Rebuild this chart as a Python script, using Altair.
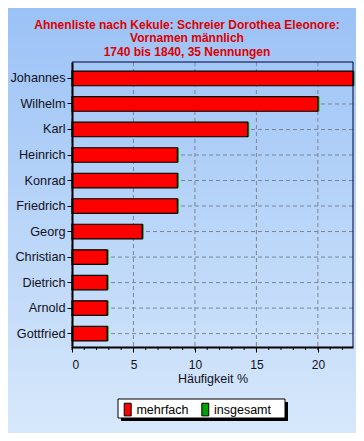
import altair as alt
import pandas as pd

# ---- data ----
names = ["Johannes", "Wilhelm", "Karl", "Heinrich", "Konrad", "Friedrich",
         "Georg", "Christian", "Dietrich", "Arnold", "Gottfried"]
mehrfach = [22.86, 20.0, 14.29, 8.57, 8.57, 8.57, 5.71, 2.86, 2.86, 2.86, 2.86]
insgesamt = [22.86, 20.0, 14.29, 8.57, 8.57, 8.57, 5.71, 2.86, 2.86, 2.86, 2.86]
x_ticks = [0, 5, 10, 15, 20]
minor_ticks = list(range(0, 23))
series = ["mehrfach", "insgesamt"]
series_colors = ["#ff0000", "#00a000"]
title_lines = ["Ahnenliste nach Kekule: Schreier Dorothea Eleonore:",
               "Vornamen männlich",
               "1740 bis 1840, 35 Nennungen"]
x_title = "Häufigkeit %"

W, H = 281, 285
PAD = {"left": 64, "top": 54, "right": 3, "bottom": 86}
FONT = "Liberation Sans"

df = pd.DataFrame({"name": names, "mehrfach": mehrfach, "insgesamt": insgesamt})
one = pd.DataFrame({"a": [0]})

xscale = alt.Scale(domain=[0, 22.857], nice=False, zero=True)
yscale = alt.Scale(domain=names, paddingInner=0.43, paddingOuter=0.3, align=0.6)

xaxis = alt.Axis(values=x_ticks, format="d", grid=False, labelFont=FONT, labelFontSize=12,
                 labelColor="#111122", labelPadding=7, tickSize=5, tickColor="black",
                 domainColor="black", domainWidth=2, title=x_title, titleFont=FONT,
                 titleFontSize=12.5, titleFontWeight="normal", titleColor="#111122",
                 titlePadding=2, zindex=1)
yaxis = alt.Axis(grid=False, labelFont=FONT, labelFontSize=12.7, labelColor="#111122",
                 labelPadding=2, tickSize=5, tickColor="black", domainColor="black",
                 domainWidth=2, title=None, zindex=1)


def X(field):
    return alt.X(field, type="quantitative", scale=xscale, axis=xaxis, title=x_title)


def Y(field):
    return alt.Y(field, type="nominal", scale=yscale, axis=yaxis, sort=names, title=None)


cscale = alt.Scale(domain=series, range=series_colors)
legend = alt.Legend(orient="none", legendX=48.7, legendY=340.2, direction="horizontal",
                    title=None, padding=0, labelFont=FONT, labelFontSize=12.5,
                    labelColor="black", labelOffset=1.7, columnPadding=9.6,
                    symbolType="M-0.55,-1H0.55V1H-0.55Z", symbolSize=160,
                    symbolStrokeColor="black", symbolStrokeWidth=1, symbolOpacity=1,
                    zindex=1)
C = alt.Color("s:N", scale=cscale, legend=legend, sort=series)

R = W + PAD["right"]
B = H + PAD["bottom"]

bg = alt.Chart(one).mark_rect(
    fill=alt.Gradient(gradient="linear",
                      stops=[alt.GradientStop(color="#9bc2f6", offset=0),
                             alt.GradientStop(color="#d7e8fb", offset=1)],
                      x1=0, x2=0, y1=0, y2=1)
).encode(x=alt.value(-PAD["left"]), x2=alt.value(R), y=alt.value(-PAD["top"]), y2=alt.value(B))

title = alt.Chart(one).mark_text(
    font=FONT, fontSize=12, fontWeight="bold", color="#dd0000", lineHeight=13.4,
    align="center", baseline="middle"
).encode(text=alt.value(title_lines), x=alt.value(115), y=alt.value(-37))

grid_v = alt.Chart(pd.DataFrame({"v": x_ticks})).mark_rule(
    color="#7a8597", strokeWidth=1, strokeDash=[4, 3]).encode(x=X("v"))
grid_h = alt.Chart(df).mark_rule(
    color="#7a8597", strokeWidth=1, strokeDash=[4, 3]).encode(y=Y("name"))

green = alt.Chart(df).transform_calculate(s="'insgesamt'").mark_bar(
    xOffset=1.5, opacity=1).encode(x=X("insgesamt"), y=Y("name"), color=C)
red = alt.Chart(df).transform_calculate(s="'mehrfach'").mark_bar(
    stroke="black", strokeWidth=1.2, opacity=1).encode(x=X("mehrfach"), y=Y("name"), color=C)

frame_t = alt.Chart(one).mark_rule(color="#000033", strokeWidth=1).encode(
    y=alt.value(0), x=alt.value(0), x2=alt.value(W))
frame_r = alt.Chart(one).mark_rule(color="#000033", strokeWidth=1).encode(
    x=alt.value(W), y=alt.value(0), y2=alt.value(H))

minor = alt.Chart(pd.DataFrame({"m": minor_ticks})).mark_rule(
    color="black", strokeWidth=1).encode(x=X("m"), y=alt.value(H), y2=alt.value(H + 3))

shadow = alt.Chart(one).mark_rect(fill="black").encode(
    x=alt.value(49), x2=alt.value(216), y=alt.value(340), y2=alt.value(359))
box = alt.Chart(one).mark_rect(fill="white", stroke="black", strokeWidth=1).encode(
    x=alt.value(46), x2=alt.value(213), y=alt.value(337), y2=alt.value(356))

chart = alt.layer(
    bg, title, grid_v, grid_h, green, red, frame_t, frame_r, minor, shadow, box
).properties(
    width=W, height=H,
    autosize=alt.AutoSizeParams(type="none"),
    padding=PAD,
).configure_view(stroke=None)

chart.save("out.html", embed_options={"renderer": "svg", "actions": False})
